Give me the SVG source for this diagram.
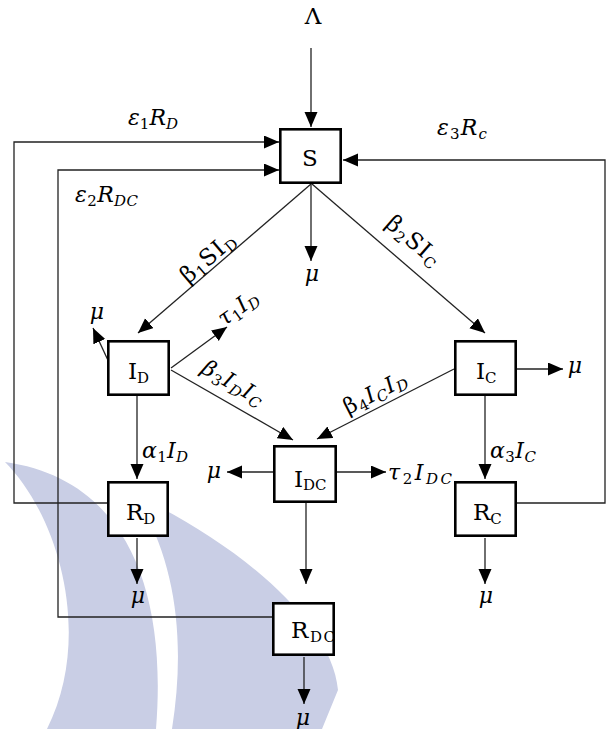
<svg xmlns="http://www.w3.org/2000/svg" width="607" height="729" viewBox="0 0 607 729">
<style>
.bx{fill:#fff;stroke:#000;stroke-width:2.6}
.ar{fill:none;stroke:#222;stroke-width:1.3;marker-end:url(#ah)}
.t{font-family:"DejaVu Serif","Liberation Serif",serif;font-size:23px;fill:#000}
.m{font-family:"DejaVu Serif","Liberation Serif",serif;font-size:22px;font-style:italic;fill:#000}
.u{font-style:normal}
.s{font-size:15px}
.wm{fill:#c9cee5}
</style>
<defs>
<marker id="ah" markerUnits="userSpaceOnUse" markerWidth="16" markerHeight="14" refX="15" refY="6.5" orient="auto">
<path d="M0,0 L15,6.5 L0,13 Z" fill="#000"/>
</marker>
</defs>
<rect width="607" height="729" fill="#fff"/>
<g id="watermark">
<path class="wm" d="M5,462 C120,478 168,580 156,729 L47,729 C92,640 62,520 5,462 Z"/>
<path class="wm" d="M135,495 C232,540 332,620 338,690 L322,729 L172,729 C186,640 176,560 135,495 Z"/>
</g>
<g id="connectors">
<line class="ar" x1="311" y1="48" x2="311" y2="127"/>
<line class="ar" x1="311" y1="184" x2="311" y2="261"/>
<line class="ar" x1="311" y1="184" x2="138" y2="333"/>
<line class="ar" x1="312" y1="184" x2="485" y2="333"/>
<line class="ar" x1="112" y1="369" x2="93" y2="328"/>
<line class="ar" x1="171" y1="368" x2="227" y2="327"/>
<line class="ar" x1="171" y1="370" x2="293" y2="440"/>
<line class="ar" x1="454" y1="369" x2="317" y2="439"/>
<line class="ar" x1="517" y1="369" x2="563" y2="369"/>
<line class="ar" x1="137" y1="396" x2="137" y2="479"/>
<line class="ar" x1="485" y1="396" x2="485" y2="479"/>
<line class="ar" x1="273" y1="472" x2="227" y2="472"/>
<line class="ar" x1="337" y1="472" x2="386" y2="472"/>
<line class="ar" x1="306" y1="499" x2="306" y2="584"/>
<line class="ar" x1="137" y1="538" x2="137" y2="584"/>
<line class="ar" x1="485" y1="538" x2="485" y2="584"/>
<line class="ar" x1="304" y1="657" x2="304" y2="704"/>
<polyline class="ar" points="107,503 14,503 14,142 279,142"/>
<polyline class="ar" points="272,617 58,617 58,170 279,170"/>
<polyline class="ar" points="517,503 605,503 605,160 343,160"/>
</g>
<g id="S"><rect class="bx" x="280.3" y="129.3" width="60.4" height="53.4"/><text class="t" x="310" y="166" text-anchor="middle">S</text></g>
<g id="ID"><rect class="bx" x="108.3" y="341.3" width="60.4" height="53.4"/><text class="t" x="128" y="379">I<tspan class="s" dy="4">D</tspan></text></g>
<g id="IC"><rect class="bx" x="455.3" y="341.3" width="60.4" height="53.4"/><text class="t" x="476" y="379">I<tspan class="s" dy="4">C</tspan></text></g>
<g id="IDC"><rect class="bx" x="274.3" y="446.3" width="61.4" height="55.4"/><text class="t" x="294" y="487">I<tspan class="s" dy="3">DC</tspan></text></g>
<g id="RD"><rect class="bx" x="108.3" y="482.3" width="59.4" height="53.4"/><text class="t" x="126" y="520">R<tspan class="s" dy="4">D</tspan></text></g>
<g id="RC"><rect class="bx" x="455.3" y="482.3" width="60.4" height="53.4"/><text class="t" x="473" y="520">R<tspan class="s" dy="4">C</tspan></text></g>
<g id="RDC"><rect class="bx" x="273.3" y="603.3" width="60.4" height="51.4"/><text class="t" x="291" y="638" textLength="44">R<tspan class="s" dy="4">DC</tspan></text></g>
<g id="labels">
<text class="t" x="313" y="24" text-anchor="middle" font-size="16">Λ</text>
<text class="m" x="128" y="125" textLength="50">ε<tspan class="s u" dy="4">1</tspan><tspan dy="-4">R</tspan><tspan class="s" dy="4">D</tspan></text>
<text class="m" x="75" y="202" textLength="63">ε<tspan class="s u" dy="4">2</tspan><tspan dy="-4">R</tspan><tspan class="s" dy="4">DC</tspan></text>
<text class="m" x="437" y="135" textLength="50">ε<tspan class="s u" dy="4">3</tspan><tspan dy="-4">R</tspan><tspan class="s" dy="4">c</tspan></text>
<text class="m" x="312" y="281" text-anchor="middle">μ</text>
<text class="m" x="97" y="319" text-anchor="middle">μ</text>
<text class="m" x="575" y="373" text-anchor="middle">μ</text>
<text class="m" x="214" y="478" text-anchor="middle">μ</text>
<text class="m" x="138" y="603" text-anchor="middle">μ</text>
<text class="m" x="486" y="603" text-anchor="middle">μ</text>
<text class="m" x="303" y="725" text-anchor="middle">μ</text>
<text class="m" x="142" y="458" textLength="46">α<tspan class="s u" dy="4">1</tspan><tspan dy="-4">I</tspan><tspan class="s" dy="4">D</tspan></text>
<text class="m" x="490" y="458" textLength="46">α<tspan class="s u" dy="4">3</tspan><tspan dy="-4">I</tspan><tspan class="s" dy="4">C</tspan></text>
<text class="m" x="388" y="480" textLength="64">τ<tspan class="s u" dy="4">2</tspan><tspan dy="-4">I</tspan><tspan class="s" dy="4">DC</tspan></text>
<text class="t" transform="translate(208,258) rotate(-40.6)" y="7" text-anchor="middle" textLength="64">β<tspan class="s" dy="4">1</tspan><tspan dy="-4">SI</tspan><tspan class="s" dy="4">D</tspan></text>
<text class="t" transform="translate(413,241) rotate(40.7)" y="7" text-anchor="middle" textLength="64">β<tspan class="s" dy="4">2</tspan><tspan dy="-4">SI</tspan><tspan class="s" dy="4">C</tspan></text>
<text class="m" transform="translate(238,308) rotate(-36)" y="7" text-anchor="middle" textLength="44">τ<tspan class="s u" dy="4">1</tspan><tspan dy="-4">I</tspan><tspan class="s" dy="4">D</tspan></text>
<text class="m" transform="translate(233,383) rotate(30)" y="7" text-anchor="middle" textLength="68">β<tspan class="s u" dy="4">3</tspan><tspan dy="-4">I</tspan><tspan class="s" dy="4">D</tspan><tspan dy="-4">I</tspan><tspan class="s" dy="4">C</tspan></text>
<text class="m" transform="translate(375,393) rotate(-27)" y="7" text-anchor="middle" textLength="68"><tspan class="u">β</tspan><tspan class="s u" dy="4">4</tspan><tspan dy="-4">I</tspan><tspan class="s" dy="4">C</tspan><tspan dy="-4">I</tspan><tspan class="s" dy="4">D</tspan></text>
</g>
</svg>
